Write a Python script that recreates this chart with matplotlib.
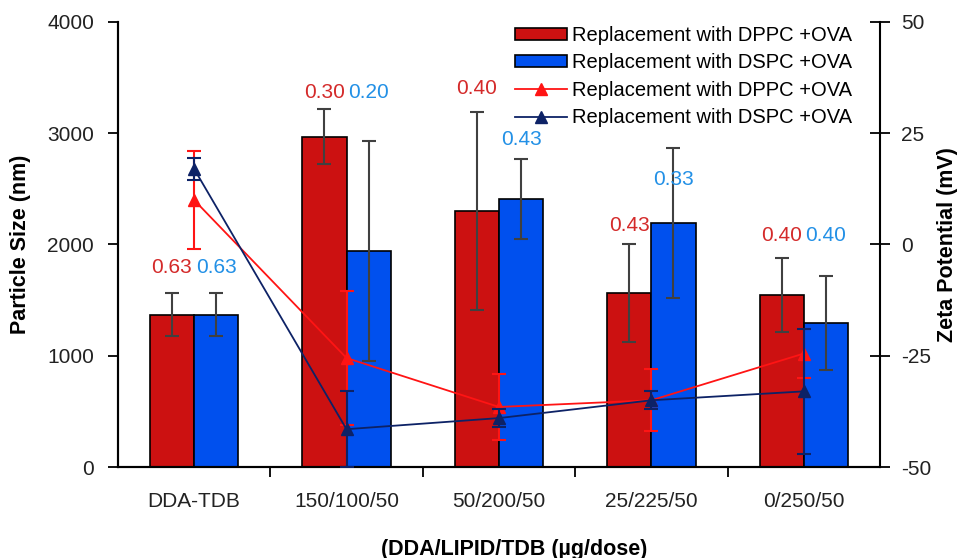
import numpy as np
import matplotlib
matplotlib.use("Agg")
import matplotlib.pyplot as plt
from matplotlib.patches import Patch
from matplotlib.lines import Line2D

plt.rcParams['font.family'] = ['Liberation Sans', 'DejaVu Sans']
plt.rcParams['axes.unicode_minus'] = False

categories = ['DDA-TDB', '150/100/50', '50/200/50', '25/225/50', '0/250/50']

# particle size (nm)
size_dppc = [1370, 2970, 2300, 1565, 1545]
size_dppc_err = [190, 245, 890, 440, 330]
size_dspc = [1370, 1940, 2410, 2190, 1295]
size_dspc_err = [190, 990, 360, 675, 425]

# zeta potential (mV)
zeta_dppc = [10, -25.5, -36.5, -35, -24.5]
zeta_dppc_err = [11, 15, 7.5, 7, 5.5]
zeta_dspc = [17, -41.5, -39, -35, -33]
zeta_dspc_err = [2.5, 8.5, 2, 2, 14]

# PDI labels and the height (nm) where they sit
pdi_dppc = ['0.63', '0.30', '0.40', '0.43', '0.40']
pdi_dspc = ['0.63', '0.20', '0.43', '0.33', '0.40']
pdi_y_dppc = [1790, 3370, 3405, 2175, 2085]
pdi_y_dspc = [1790, 3370, 2940, 2580, 2085]

legend_label_dppc = 'Replacement with DPPC +OVA'
legend_label_dspc = 'Replacement with DSPC +OVA'

RED_BAR = '#CC1111'
BLUE_BAR = '#0050EE'
RED_LINE = '#FF1414'
NAVY_LINE = '#0D2266'
ERR_GREY = '#404040'

fig = plt.figure(figsize=(9.74, 5.58), dpi=100)
ax = fig.add_axes([0.121, 0.163, 0.7825, 0.7977])
ax2 = ax.twinx()

x = np.arange(len(categories))
w = 0.29

ax.bar(x - w / 2, size_dppc, w, color=RED_BAR, edgecolor='black', linewidth=1.2,
       yerr=size_dppc_err, error_kw=dict(ecolor=ERR_GREY, elinewidth=1.5, capsize=5, capthick=1.5), zorder=2)
ax.bar(x + w / 2, size_dspc, w, color=BLUE_BAR, edgecolor='black', linewidth=1.2,
       yerr=size_dspc_err, error_kw=dict(ecolor=ERR_GREY, elinewidth=1.5, capsize=5, capthick=1.5), zorder=2)

for i in range(len(categories)):
    ax.text(x[i] - w / 2, pdi_y_dppc[i], pdi_dppc[i], color='#D42A2A', fontsize=15,
            ha='center', va='center', zorder=3)
    ax.text(x[i] + w / 2, pdi_y_dspc[i], pdi_dspc[i], color='#2290E6', fontsize=15,
            ha='center', va='center', zorder=3)

ax2.errorbar(x, zeta_dppc, yerr=zeta_dppc_err, color=RED_LINE, lw=1.3, marker='^', ms=9,
             elinewidth=1.5, capsize=5, capthick=1.5, zorder=3)
ax2.errorbar(x, zeta_dspc, yerr=zeta_dspc_err, color=NAVY_LINE, lw=1.3, marker='^', ms=9,
             elinewidth=1.5, capsize=5, capthick=1.5, zorder=4)

ax.set_xlim(-0.5, len(categories) - 0.5)
ax.set_ylim(0, 4000)
ax.set_yticks([0, 1000, 2000, 3000, 4000])
ax2.set_ylim(-50, 50)
ax2.set_yticks([-50, -25, 0, 25, 50])

ax.set_xticks(x)
ax.set_xticklabels(categories)
ax.set_xticks(x[:-1] + 0.5, minor=True)
ax.tick_params(axis='x', which='major', length=0, pad=18, labelsize=15, labelcolor='#222222')
ax.tick_params(axis='x', which='minor', length=7, width=1.3, direction='out')
ax.tick_params(axis='y', length=7, width=1.3, direction='out', labelsize=15, labelcolor='#222222', pad=10)
ax2.tick_params(axis='y', length=14, width=1.3, direction='inout', labelsize=15, labelcolor='#222222', pad=8)

for a in (ax, ax2):
    a.spines['top'].set_visible(False)
    for s in ('left', 'right', 'bottom'):
        a.spines[s].set_linewidth(1.5)
ax.spines['right'].set_visible(False)

ax.set_ylabel('Particle Size (nm)', fontsize=15.5, fontweight='bold', labelpad=12)
ax2.set_ylabel('Zeta Potential (mV)', fontsize=15.5, fontweight='bold', labelpad=4)
fig.text(0.528, 0.016, '(DDA/LIPID/TDB (\u00b5g/dose)', fontsize=15.5, fontweight='bold',
         ha='center', va='center')

handles = [
    Patch(facecolor=RED_BAR, edgecolor='black', linewidth=1.2),
    Patch(facecolor=BLUE_BAR, edgecolor='black', linewidth=1.2),
    Line2D([], [], color=RED_LINE, lw=1.3, marker='^', ms=9),
    Line2D([], [], color=NAVY_LINE, lw=1.3, marker='^', ms=9),
]
labels = [legend_label_dppc, legend_label_dspc, legend_label_dppc, legend_label_dspc]
ax2.legend(handles, labels, loc='upper right', bbox_to_anchor=(0.883, 0.968),
           bbox_transform=fig.transFigure, frameon=False, fontsize=14.5,
           handlelength=2.6, handleheight=0.5, handletextpad=0.25, labelspacing=0.42,
           borderaxespad=0)

fig.savefig('out.png', dpi=100)
